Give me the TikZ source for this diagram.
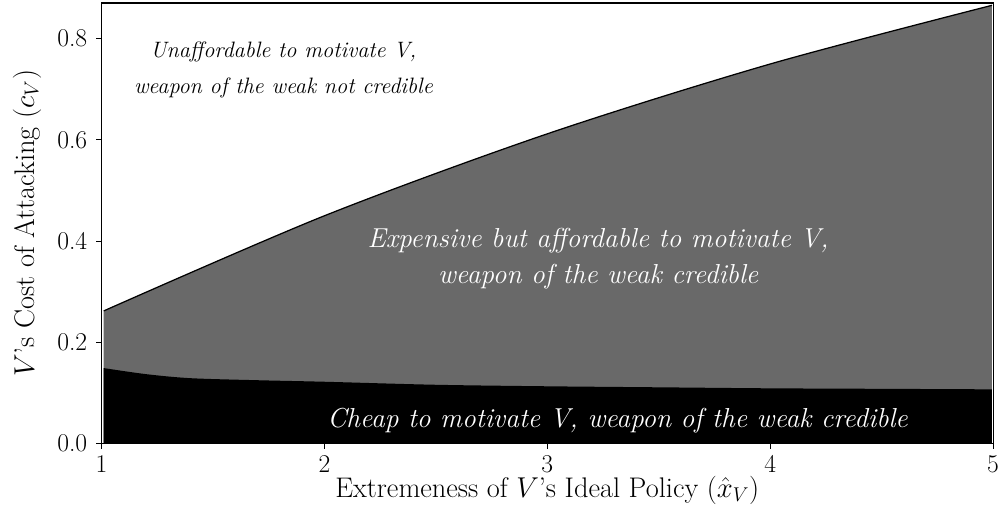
\documentclass[tikz,border=0pt]{standalone}
\usepackage{tikz}
\usepackage{amsmath}
\usetikzlibrary{positioning}

\definecolor{midgrey}{RGB}{105,105,105}

\begin{document}
\begin{tikzpicture}[x=5.662cm,y=12.852cm,font=\fontsize{20.5}{25}\selectfont,
  spine/.style={line width=0.8pt},
  ticklab/.style={inner sep=0pt,font=\fontsize{18.5}{22}\selectfont},
  region/.style={font=\fontsize{19.8}{26}\selectfont\itshape,align=center}]
\useasboundingbox (0.5446,-0.1453) rectangle (5.0399,0.8765);

% regions
\fill[midgrey] (1.01,0) -- plot[smooth] coordinates {(1.01,0.262) (2,0.450) (3,0.612) (4,0.750) (4.995,0.866)} -- (4.995,0) -- cycle;
\fill[black] (1.01,0) -- plot[smooth] coordinates {(1.01,0.149) (1.2,0.137) (1.4,0.129) (1.7,0.125) (2,0.122) (2.5,0.116) (3,0.113) (3.5,0.111) (4,0.109) (4.5,0.108) (4.995,0.107)} -- (4.995,0) -- cycle;
\draw[line width=0.9pt] plot[smooth] coordinates {(1.01,0.262) (2,0.450) (3,0.612) (4,0.750) (4.995,0.866)};

% axes
\draw[spine] (1,0) rectangle (5,0.8705);
\foreach \v in {0.0,0.2,0.4,0.6,0.8}{
  \draw[spine] (1,\v) -- ++(-0.15cm,0);
  \node[ticklab,anchor=east] (yl\v) at ([xshift=-0.356cm]1,\v) {\v};
}
\foreach \v in {1,...,5}{
  \draw[spine] (\v,0) -- ++(0,-0.15cm);
  \node[ticklab,anchor=north] (xl\v) at ([yshift=-0.29cm]\v,0) {\v};
}

\node[inner sep=0pt] (xlab) at (3,-0.0925) {Extremeness of $V$'s Ideal Policy ($\hat{x}_V$)};
\node[inner sep=0pt,rotate=90] (ylab) at (0.666,0.435) {$V$'s Cost of Attacking ($c_V$)};

% labels
\node[region,font=\fontsize{16.1}{26}\selectfont\itshape] (unaff) at (1.816,0.738) {Unaffordable to motivate V,\\ weapon of the weak not credible};
\node[region,white] (expens) at (3.228,0.365) {Expensive but affordable to motivate V,\\ weapon of the weak credible};
\node[region,white] (cheap) at (3.315,0.045) {Cheap to motivate V, weapon of the weak credible};
\end{tikzpicture}
\end{document}
